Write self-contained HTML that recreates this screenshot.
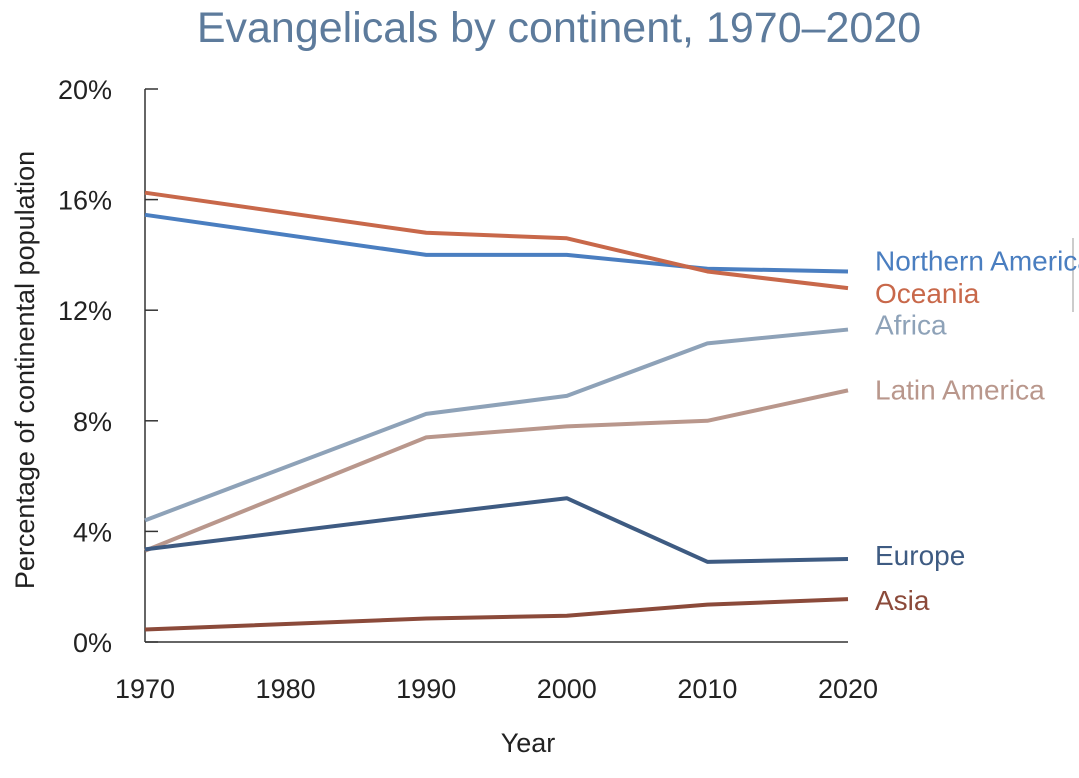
<!DOCTYPE html>
<html><head><meta charset="utf-8"><style>
body{margin:0;background:#fff;width:1079px;height:773px;overflow:hidden;font-family:"Liberation Sans",sans-serif;}
</style></head><body>
<svg id="chart" width="1079" height="773" viewBox="0 0 1079 773" xmlns="http://www.w3.org/2000/svg">
<text x="559" y="42" text-anchor="middle" font-size="43" fill="#5d7b9c" font-family="Liberation Sans, sans-serif">Evangelicals by continent, 1970–2020</text>
<text transform="translate(34,370) rotate(-90)" text-anchor="middle" font-size="27" fill="#222">Percentage of continental population</text>
<text x="528" y="752" text-anchor="middle" font-size="27" fill="#222">Year</text>
<line x1="1073" y1="238" x2="1073" y2="312" stroke="#ccc" stroke-width="2"/>
<g id="axes"></g><g id="series"></g>
</svg>
<script>
const years=[1970,1990,2000,2010,2020];
const xTicks=[1970,1980,1990,2000,2010,2020];
const yTicks=[0,4,8,12,16,20];
const northernAmerica=[15.45,14.0,14.0,13.5,13.4];
const oceania=[16.25,14.8,14.6,13.4,12.8];
const africa=[4.4,8.25,8.9,10.8,11.3];
const latinAmerica=[3.3,7.4,7.8,8.0,9.1];
const europe=[3.35,4.6,5.2,2.9,3.0];
const asia=[0.45,0.85,0.95,1.35,1.55];
const names=["Northern America","Oceania","Africa","Latin America","Europe","Asia"];
const seriesData=[northernAmerica,oceania,africa,latinAmerica,europe,asia];
const colors=["#4a7ec0","#c8684a","#8ea2b8","#b9978c","#3e5b82","#8b4a3a"];
const labelDy=[-10,6,-4,0,-3,2];
const X=y=>145+(y-1970)*(848-145)/50;
const Y=v=>642-v*(642-89)/20;
const ns="http://www.w3.org/2000/svg";
const axes=document.getElementById('axes'),sg=document.getElementById('series');
function mk(tag,attrs,parent){const e=document.createElementNS(ns,tag);for(const k in attrs)e.setAttribute(k,attrs[k]);parent.appendChild(e);return e;}
let l=mk('line',{x1:145,y1:89,x2:145,y2:642,stroke:'#333','stroke-width':1.5},axes);


l=mk('line',{x1:145,y1:642,x2:848,y2:642,stroke:'#333','stroke-width':1.5},axes);


yTicks.forEach(v=>{
 const t=mk('line',{x1:145,y1:Y(v),x2:158,y2:Y(v),stroke:'#333','stroke-width':1.5},axes);
 
 
 const tx=mk('text',{x:112,y:Y(v)+10,'text-anchor':'end','font-size':27,fill:'#222'},axes);
 tx.textContent=v+'%';
 
 
});
xTicks.forEach(v=>{
 const tx=mk('text',{x:X(v),y:698,'text-anchor':'middle','font-size':27,fill:'#222'},axes);
 tx.textContent=v;
 
 
});
seriesData.forEach((d,i)=>{
 const p=mk('polyline',{points:d.map((v,j)=>X(years[j])+','+Y(v)).join(' '),fill:'none',stroke:colors[i],'stroke-width':4,'stroke-linejoin':'round'},sg);
 
 
 const t=mk('text',{x:875,y:Y(d[d.length-1])+9+labelDy[i],'font-size':28,fill:colors[i]},sg);
 t.textContent=names[i];
 
 
});
</script>
</body></html>
